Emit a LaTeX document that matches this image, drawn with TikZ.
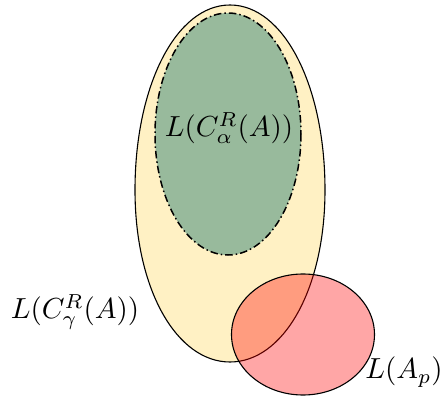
\documentclass[tikz,border=0pt]{standalone}
\definecolor{eggyellow}{RGB}{255,241,196}
\definecolor{sage}{RGB}{152,186,156}
\tikzset{
  outline/.style={draw=black, line width=1.1pt},
  lbl/.style={inner sep=0pt, scale=2.9}
}
\begin{document}
\begin{tikzpicture}[x=1pt,y=-1pt]
\useasboundingbox (0,0) rectangle (440,396);
% big egg
\path[outline, fill=eggyellow]
  (230,5) .. controls (284,5) and (325,86) .. (325,190)
  .. controls (325,290) and (283,362) .. (230,362)
  .. controls (177,362) and (135,290) .. (135,190)
  .. controls (135,86) and (176,5) .. (230,5) -- cycle;
% green ellipse
\path[fill=sage, draw=black, line width=1.5pt,
      dash pattern=on 7.5pt off 3pt on 1.5pt off 3pt]
  (228,134) ellipse [x radius=73, y radius=121];
\node[lbl] (alpha) at (229,128) {$L(C^R_\alpha(A))$};
% red ellipse
\path[outline, fill=red, fill opacity=0.35]
  (303,334.5) ellipse [x radius=71.5, y radius=60.5];
\node[lbl] (gamma) at (75,312) {$L(C^R_\gamma(A))$};
\node[lbl] (ap) at (404,372) {$L(A_p)$};
\end{tikzpicture}
\end{document}
